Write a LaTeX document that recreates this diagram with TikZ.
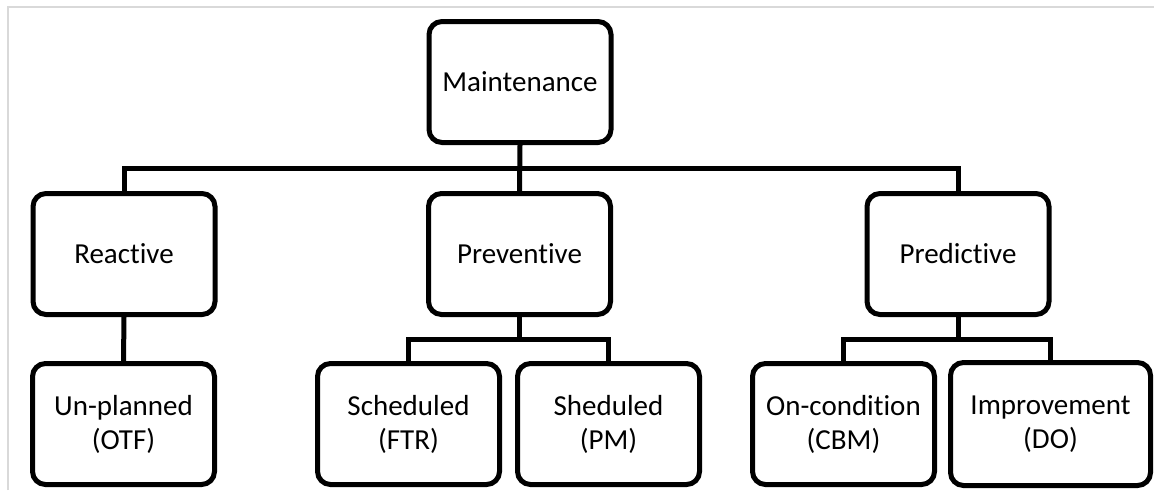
\documentclass[tikz,border=0pt]{standalone}
\usepackage{fontspec}
\setmainfont[Ligatures={NoCommon}]{Carlito}
\begin{document}
\begin{tikzpicture}[x=1pt,y=-1pt,
  box/.style={draw=black, fill=white, line width=5pt, rounded corners=13pt,
    minimum width=182pt, minimum height=121pt, align=center,
    font=\fontsize{29}{34}\selectfont, inner sep=0pt},
  link/.style={draw=black, line width=5pt},
  frame/.style={draw=black!15, line width=1.5pt}]
  \useasboundingbox (0,0) rectangle (1154,490);
  % page edge
  \draw[frame] (8,490) -- (8,7) -- (1154,7);

  % boxes
  \node[box] (m)  at (520,82)    {Maintenance};
  \node[box] (r)  at (124,254)   {Reactive};
  \node[box] (pv) at (519.5,254) {Preventive};
  \node[box] (pd) at (958,254)   {Predictive};
  \node[box] (u)  at (123.5,424) {Un-planned\\(OTF)};
  \node[box] (s1) at (408.5,424) {Scheduled\\(FTR)};
  \node[box] (s2) at (608.5,424) {Sheduled\\(PM)};
  \node[box] (c)  at (843.5,424) {On-condition\\(CBM)};
  \node[box, minimum width=200pt, minimum height=123pt] (i) at (1050.5,424) {Improvement\\(DO)};

  % first level connectors
  \coordinate (bar) at (520,168);
  \draw[link] (m.south) -- (pv.north);
  \draw[link] (r.north) |- (bar) -| (pd.north);

  % second level connectors
  \draw[link] (r.south) -- (u.north);
  \draw[link] (pv.south) -- ++(0,22.5) coordinate (pvj);
  \draw[link] (s1.north) |- (pvj) -| (s2.north);
  \draw[link] (pd.south) -- ++(0,22.5) coordinate (pdj);
  \draw[link] (c.north) |- (pdj) -| (i.north);
\end{tikzpicture}
\end{document}
